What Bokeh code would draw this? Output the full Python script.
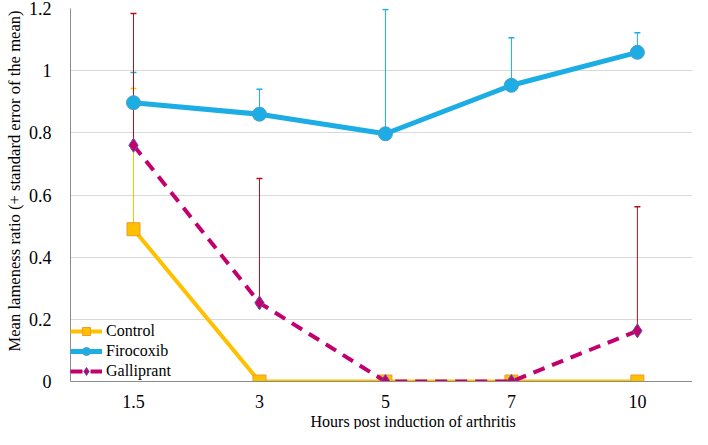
from bokeh.plotting import figure
from bokeh.models import (ColumnDataSource, Whisker, TeeHead, Legend, LegendItem,
                          FixedTicker, Range1d, Title)
from bokeh.embed import file_html
from bokeh.resources import INLINE

hours = ["1.5", "3", "5", "7", "10"]
control = [0.49, 0.0, 0.0, 0.0, 0.0]
control_upper = [0.943, 0.0, 0.0, 0.0, 0.0]
firocoxib = [0.897, 0.86, 0.797, 0.953, 1.059]
firocoxib_upper = [0.994, 0.94, 1.197, 1.106, 1.122]
galliprant = [0.76, 0.253, 0.0, 0.0, 0.163]
galliprant_upper = [1.184, 0.653, 0.0, 0.0, 0.5625]
y_ticks = [0, 0.2, 0.4, 0.6, 0.8, 1.0, 1.2]
y_tick_labels = ["0", "0.2", "0.4", "0.6", "0.8", "1", "1.2"]
x_title = "Hours post induction of arthritis"
y_title = "Mean lameness ratio (+ standard error of the mean)"

xs = list(range(len(hours)))
FONT = "Liberation Serif"

p = figure(width=692, height=429, output_backend="svg", toolbar_location=None,
           x_range=Range1d(-0.5, -0.5 + 632 / 128), y_range=Range1d(0, 1.2),
           min_border_left=60, min_border_right=0, min_border_top=8,
           min_border_bottom=40)
p.outline_line_color = None
p.background_fill_color = "white"

series = [
    ("Control", control, control_upper, "#FFC000", "#FFC000", "square", "#EE9A2E", "solid", 4, 13),
    ("Firocoxib", firocoxib, firocoxib_upper, "#1BADE4", "#1BADE4", "circle", "#4C9FC9", "solid", 5, 14),
    ("Galliprant", galliprant, galliprant_upper, "#C2006E", "#B0101C", "diamond", "#5A58A8", "12 8", 4, 14),
]

sources = []
for name, vals, upper, col, ecol, mk, mline, dash, lw, sz in series:
    src = ColumnDataSource(dict(x=xs, y=vals, upper=upper))
    sources.append(src)
    w = Whisker(source=src, base="x", upper="upper", lower="y", line_color=ecol,
                line_width=1,
                upper_head=TeeHead(size=6, line_color=ecol, line_width=1.5),
                lower_head=None)
    p.add_layout(w)

items = []
for (name, vals, upper, col, ecol, mk, mline, dash, lw, sz), src in zip(series, sources):
    ln = p.line("x", "y", source=src, line_color=col, line_width=lw, line_dash=dash)
    sc = p.scatter("x", "y", source=src, marker=mk, size=sz, fill_color=col,
                   line_color=mline, line_width=1)
    items.append(LegendItem(label=name, renderers=[ln, sc]))

legend = Legend(items=items, location=(0, 0), background_fill_alpha=0,
                border_line_color=None, label_text_font=FONT,
                label_text_font_size="16px", label_text_color="#000000",
                glyph_width=32, glyph_height=20, label_height=20,
                spacing=0, padding=2, margin=0, label_standoff=4)
p.add_layout(legend, "center")

p.xaxis.ticker = FixedTicker(ticks=xs)
p.xaxis.major_label_overrides = {i: h for i, h in enumerate(hours)}
p.yaxis.ticker = FixedTicker(ticks=y_ticks)
p.yaxis.major_label_overrides = {t: l for t, l in zip(y_ticks, y_tick_labels)}

for ax in (p.xaxis, p.yaxis):
    ax.major_label_text_font = FONT
    ax.major_label_text_font_size = "18px"
    ax.major_label_text_color = "#000000"
    ax.major_tick_line_color = None
    ax.minor_tick_line_color = None
    ax.axis_line_color = "#8C8C8C"
    ax.axis_line_width = 1
p.xaxis.major_label_standoff = 7
p.yaxis.major_label_standoff = 13

xt = Title(text=x_title, align="left", offset=240, standoff=0,
           text_font=FONT, text_font_size="16px", text_font_style="normal",
           text_color="#000000")
p.add_layout(xt, "below")
yt = Title(text=y_title, align="left", offset=30, standoff=4,
           text_font=FONT, text_font_size="16.6px", text_font_style="normal",
           text_color="#000000")
p.add_layout(yt, "left")

p.xgrid.grid_line_color = None
p.ygrid.grid_line_color = "#D9D9D9"
p.ygrid.grid_line_width = 1

open("out.html", "w").write(file_html(p, INLINE))
